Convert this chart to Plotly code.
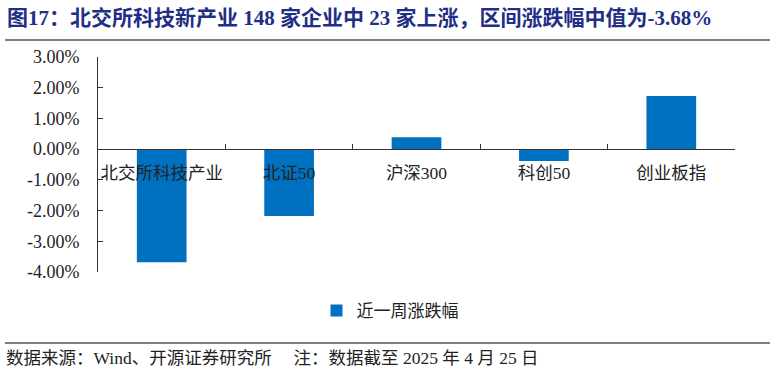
import plotly.graph_objects as go

categories = ["北交所科技产业", "北证50", "沪深300", "科创50", "创业板指"]
weekly_change = [-3.68, -2.18, 0.39, -0.39, 1.73]
series_name = "近一周涨跌幅"
y_ticks = [3, 2, 1, 0, -1, -2, -3, -4]
y_tick_labels = ["3.00%", "2.00%", "1.00%", "0.00%", "-1.00%", "-2.00%", "-3.00%", "-4.00%"]

title_text = "图17：北交所科技新产业 148 家企业中 23 家上涨，区间涨跌幅中值为-3.68%"
footer_text = "数据来源：Wind、开源证券研究所　 注：数据截至 2025 年 4 月 25 日"

SERIF = "Times New Roman, Liberation Serif, Noto Sans CJK SC"

PW, PH = 637, 215  # plot area size in px

fig = go.Figure()
fig.add_trace(go.Bar(
    x=categories, y=weekly_change, name=series_name,
    marker=dict(color="#0070C0", line=dict(width=0)),
    width=0.39,
))

fig.update_layout(
    width=774, height=374,
    margin=dict(l=98, r=39, t=57, b=102, autoexpand=False),
    paper_bgcolor="white", plot_bgcolor="white",
    showlegend=True,
    legend=dict(orientation="h", x=(390 - 98) / PW, xanchor="center",
                y=-(311 - 272) / PH, yanchor="middle",
                font=dict(family=SERIF, size=17, color="#222"),
                itemwidth=30),
    font=dict(family=SERIF, size=17, color="#222"),
)

fig.update_xaxes(
    type="category", automargin=False,
    anchor="free", position=4/7,
    showline=True, linecolor="#333", linewidth=1,
    ticks="inside", ticklen=5, tickcolor="#333",
    tickson="boundaries", tickangle=0,
    showgrid=False, zeroline=False,
    tickfont=dict(family=SERIF, size=17.5, color="#222"),
    ticklabelstandoff=8,
)
fig.update_yaxes(
    range=[-4, 3], automargin=False,
    tickvals=y_ticks, ticktext=y_tick_labels,
    showline=True, linecolor="#333", linewidth=1,
    ticks="inside", ticklen=5, tickcolor="#333",
    showgrid=False, zeroline=False,
    tickfont=dict(family=SERIF, size=18, color="#222"),
    ticklabelstandoff=14,
)

fig.add_annotation(text=title_text, xref="paper", yref="paper",
                   x=-93 / PW, y=1 + (57 - 18) / PH, xanchor="left", yanchor="middle",
                   showarrow=False,
                   font=dict(family=SERIF, size=21, color="#1F2F86", weight="bold"))
fig.add_shape(type="line", xref="paper", yref="paper",
              x0=-93 / PW, x1=(770 - 98) / PW, y0=1 + (57 - 40) / PH, y1=1 + (57 - 40) / PH,
              line=dict(color="#000", width=1.2))
fig.add_shape(type="line", xref="paper", yref="paper",
              x0=-93 / PW, x1=(770 - 98) / PW, y0=-(343 - 272) / PH, y1=-(343 - 272) / PH,
              line=dict(color="#000", width=1.2))
fig.add_annotation(text=footer_text, xref="paper", yref="paper",
                   x=-94 / PW, y=-(358 - 272) / PH, xanchor="left", yanchor="middle",
                   showarrow=False,
                   font=dict(family=SERIF, size=17.5, color="#222"))

fig.write_html("out.html", config={"displayModeBar": False},
               post_script="document.body.style.margin='0';")
